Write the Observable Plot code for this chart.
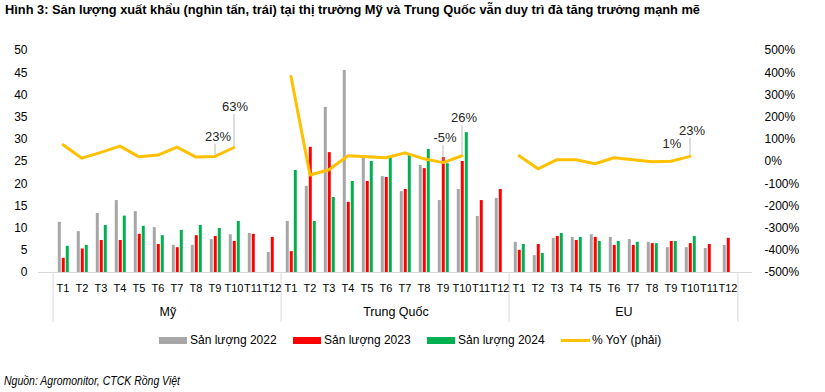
<!DOCTYPE html>
<html><head><meta charset="utf-8">
<script src="https://cdn.jsdelivr.net/npm/d3@7"></script>
<script src="https://cdn.jsdelivr.net/npm/@observablehq/plot@0.6"></script>
<style>
body{margin:0;background:#fff;font-family:"Liberation Sans Narrow","Liberation Sans",sans-serif;color:#000;}
#wrap{position:relative;width:825px;height:392px;overflow:hidden;}
#title{position:absolute;left:5px;top:2px;font-weight:bold;font-size:13.5px;white-space:nowrap;transform-origin:0 0;}
#chart{position:absolute;left:0;top:30px;}
#legend{position:absolute;top:332px;left:159px;display:flex;font-size:12px;}
.item{width:134px;display:flex;align-items:center;height:16px;}
.sw{width:28px;height:7px;margin-right:3px;}
.ln{width:29px;height:3px;margin-right:2px;}
#source{position:absolute;left:4px;top:374px;font-style:italic;font-size:12px;white-space:nowrap;transform-origin:0 0;}
</style></head>
<body><div id="wrap">
<div id="title">Hình 3: Sản lượng xuất khẩu (nghìn tấn, trái) tại thị trường Mỹ và Trung Quốc vẫn duy trì đà tăng trưởng mạnh mẽ</div>
<div id="chart"></div>
<div id="legend"></div>
<div id="source">Nguồn: Agromonitor, CTCK Rồng Việt</div>
</div>
<script>
const groups = ["Mỹ", "Trung Quốc", "EU"];
const months = ["T1","T2","T3","T4","T5","T6","T7","T8","T9","T10","T11","T12"];
const seriesNames = ["Sản lượng 2022", "Sản lượng 2023", "Sản lượng 2024"];
const yoyName = "% YoY (phải)";

const us2022 = [11.3, 9.2, 13.3, 16.2, 13.7, 10.1, 6.1, 6.1, 7.4, 8.5, 8.8, 4.5];
const us2023 = [3.2, 5.3, 7.2, 7.2, 8.6, 6.3, 5.6, 8.3, 8.1, 7.0, 8.6, 7.9];
const us2024 = [5.9, 6.1, 10.6, 12.7, 10.4, 8.3, 9.5, 10.6, 9.9, 11.5];
const usYoY  = [75, 15, 41, 69, 21, 29, 65, 20, 23, 63];

const cn2022 = [11.5, 19.4, 37.2, 45.5, 25.8, 21.6, 18.2, 24.1, 16.2, 18.7, 12.6, 16.7];
const cn2023 = [4.7, 28.2, 27.0, 15.8, 20.5, 21.4, 18.7, 23.4, 25.9, 25.0, 16.2, 18.7];
const cn2024 = [23.0, 11.5, 16.9, 20.5, 25.0, 25.7, 26.4, 27.7, 24.5, 31.5];
const cnYoY  = [383, -61, -37, 26, 21, 17, 39, 12, -5, 26];

const eu2022 = [6.8, 3.8, 7.7, 7.9, 8.5, 7.9, 7.4, 6.8, 5.6, 5.6, 5.4, 6.1];
const eu2023 = [5.0, 6.3, 8.1, 7.2, 7.9, 6.1, 6.1, 6.5, 7.0, 6.5, 6.3, 7.7];
const eu2024 = [6.3, 4.3, 8.8, 7.9, 7.0, 7.0, 6.8, 6.5, 7.0, 8.1];
const euYoY  = [26, -33, 8, 8, -10, 17, 8, -1, 1, 23];

const leftTicks = [0, 5, 10, 15, 20, 25, 30, 35, 40, 45, 50];

// annotations: group, month, label text (values shown on the chart)
const annGroup = ["Mỹ", "Mỹ", "Trung Quốc", "Trung Quốc", "EU", "EU"];
const annMonth = ["T9", "T10", "T9", "T10", "T9", "T10"];
const annText  = ["23%", "63%", "-5%", "26%", "1%", "23%"];
// layout of annotation labels (pixels)
const annDy = [-20, -41, -25, -38, -17, -26];
const annDx = [3, 1, 2, 2, 1, 2];
const annLeader = [true, true, true, true, false, true];

const colors = ["#A6A6A6", "#FF0000", "#00B050"];
const yoyColor = "#FFC000";

const seriesData = [[us2022, us2023, us2024], [cn2022, cn2023, cn2024], [eu2022, eu2023, eu2024]];
const yoyData = [usYoY, cnYoY, euYoY];
const key = (g, m) => g + "|" + m;
const keys = groups.flatMap(g => months.map(m => key(g, m)));

const bars = [];
groups.forEach((g, gi) => seriesData[gi].forEach((arr, si) => arr.forEach((v, mi) =>
  bars.push({key: key(g, months[mi]), group: g, series: seriesNames[si], value: v}))));
const yoy = [];
groups.forEach((g, gi) => yoyData[gi].forEach((v, mi) => yoy.push({key: key(g, months[mi]), group: g, value: v})));
const toLeft = p => p / 20 + 25; // right axis (-500%..500%) onto left axis (0..50)

const W = 825, H = 300, mL = 38, mR = 73, mT = 20, mB = 58;
const bw = (W - mL - mR) / keys.length;
// bar placement inside each month band
const slots = [[4.8, 8.6], [8.8, 12.6], [12.8, 16.6]];

const marks = [];
marks.push(Plot.ruleY([0], {stroke: "#D9D9D9", strokeWidth: 1}));
const seps = groups.map(g => ({key: key(g, "T1"), d: -bw / 2})).concat([{key: key("EU", "T12"), d: bw / 2}]);
seps.forEach(s => marks.push(Plot.ruleX([s], {x: "key", y1: 0, y2: 0, insetBottom: -50, dx: s.d, stroke: "#D9D9D9"})));
seriesNames.forEach((s, si) => marks.push(Plot.barY(bars.filter(d => d.series === s), {
  x: "key", y: "value", fill: colors[si],
  insetLeft: slots[si][0], insetRight: bw - slots[si][1]
})));
marks.push(Plot.line(yoy, {x: "key", y: d => toLeft(d.value), z: "group", stroke: yoyColor, strokeWidth: 3, strokeLinejoin: "round", strokeLinecap: "round"}));
annText.forEach((t, i) => {
  const g = annGroup[i], m = annMonth[i];
  const v = yoyData[groups.indexOf(g)][months.indexOf(m)];
  const d = {key: key(g, m), y: toLeft(v), text: t};
  if (annLeader[i]) marks.push(Plot.ruleX([d], {x: "key", y1: "y", y2: "y", insetTop: annDy[i] + 8, insetBottom: 1, stroke: "#A6A6A6", strokeWidth: 0.8}));
  marks.push(Plot.text([d], {x: "key", y: "y", text: "text", dy: annDy[i], dx: annDx[i], fontSize: 13, fill: "#262626"}));
});
marks.push(Plot.axisY({ticks: leftTicks, tickSize: 0, tickPadding: 11, label: null, fontSize: 12}));
marks.push(Plot.axisY({anchor: "right", ticks: leftTicks, tickFormat: d => ((d - 25) * 20) + "%", tickSize: 0, tickPadding: 12, label: null, fontSize: 12}));
marks.push(Plot.axisX({tickFormat: k => k.split("|")[1], tickSize: 0, tickPadding: 12, label: null, fontSize: 11}));
marks.push(Plot.text(groups.map(g => ({key: key(g, "T6"), g})), {x: "key", text: "g", frameAnchor: "bottom", dy: 43, dx: bw / 2, fontSize: 12.5}));

const chart = Plot.plot({
  width: W, height: H, marginLeft: mL, marginRight: mR, marginTop: mT, marginBottom: mB,
  style: {fontFamily: '"Liberation Sans Narrow","Liberation Sans",sans-serif', fontSize: "12px", color: "#000", background: "#fff", overflow: "visible"},
  x: {type: "band", domain: keys, padding: 0, axis: null},
  y: {domain: [0, 50], axis: null},
  marks
});
document.getElementById("chart").append(chart);

const legend = document.getElementById("legend");
seriesNames.forEach((s, i) => {
  const it = document.createElement("div"); it.className = "item";
  it.innerHTML = `<span class="sw" style="background:${colors[i]}"></span><span>${s}</span>`;
  legend.append(it);
});
const it = document.createElement("div"); it.className = "item";
it.innerHTML = `<span class="ln" style="background:${yoyColor}"></span><span>${yoyName}</span>`;
legend.append(it);

// fit title and source to the reference widths
const fit = (id, w) => {
  const el = document.getElementById(id);
  el.style.transform = `scaleX(${w / el.getBoundingClientRect().width})`;
};
fit("title", 695);
fit("source", 176);
</script>
</body></html>
